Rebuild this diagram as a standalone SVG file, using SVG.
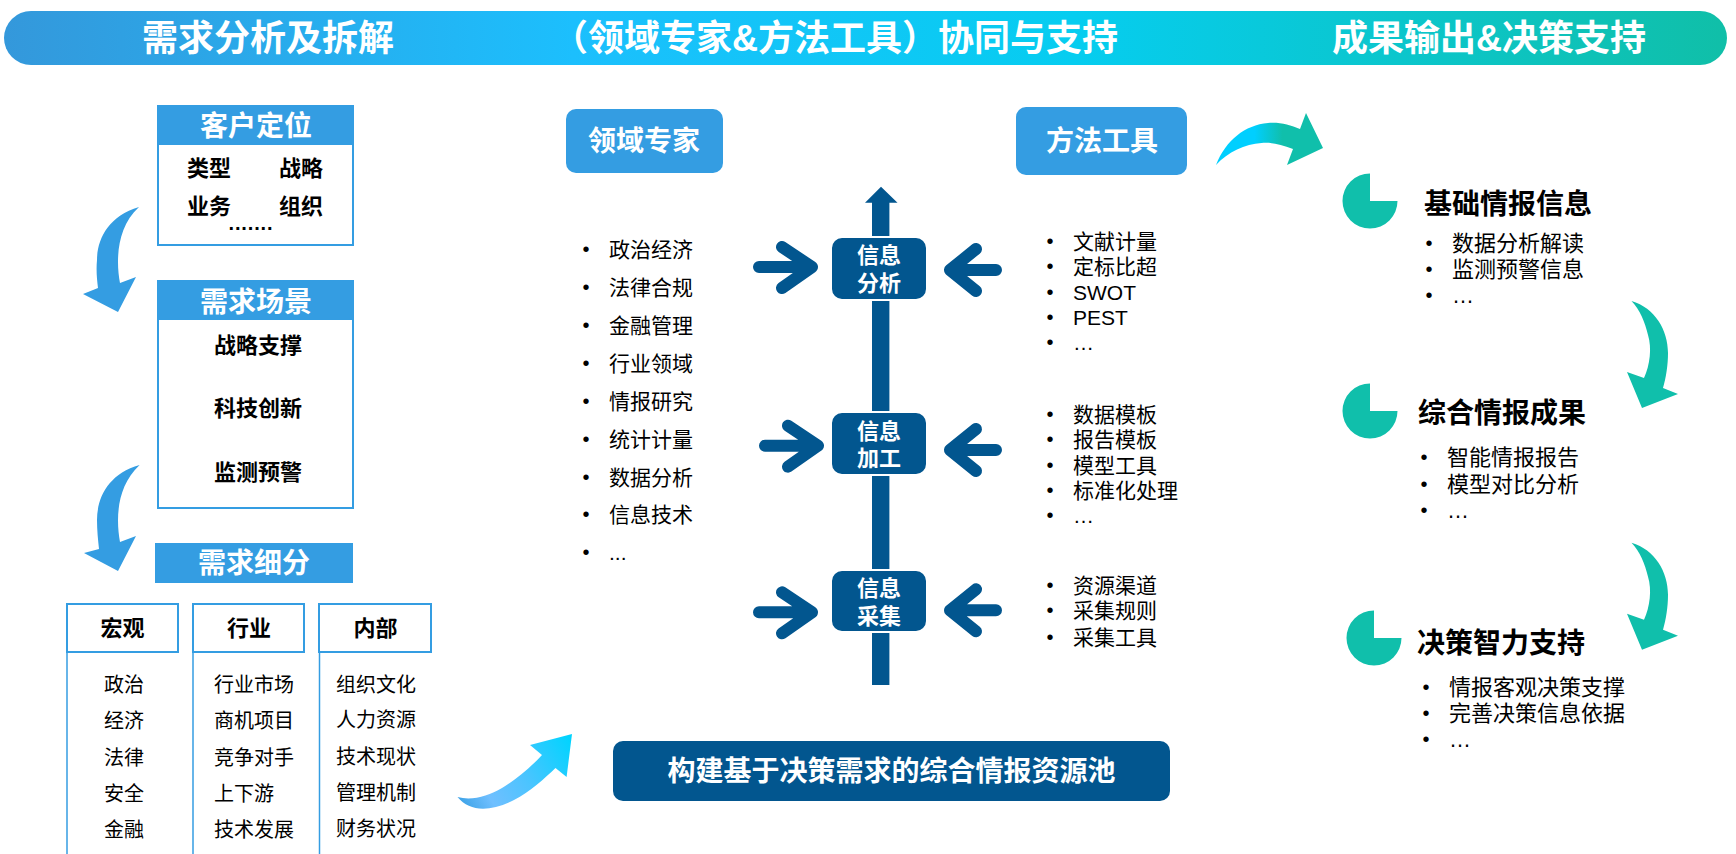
<svg xmlns="http://www.w3.org/2000/svg" xmlns:xlink="http://www.w3.org/1999/xlink" width="1736" height="854" viewBox="0 0 1736 854">
<style>
text{font-family:"Liberation Sans","Noto Sans CJK SC",sans-serif;dominant-baseline:central}
.b{font-weight:700}
.w{fill:#fff;font-weight:700}
.m{text-anchor:middle}
.t36{font-size:36px}.t28{font-size:28px}.t22{font-size:22px}.t21{font-size:21px}.t20{font-size:20px}
.k{fill:#000}
.dot{font-size:20px;text-anchor:middle}
.blue{fill:#349DE2}.navy{fill:#02568F}.teal{fill:#10BFAB}
.frame{fill:#fff;stroke:#349DE2;stroke-width:2}
.rule{stroke:#349DE2;stroke-width:1.5;fill:none}
.fat{fill:none;stroke:#02568F;stroke-width:12;stroke-linecap:round;stroke-linejoin:round}
</style>
<defs>
<linearGradient id="gb" x1="4" x2="1727" y1="0" y2="0" gradientUnits="userSpaceOnUse">
<stop offset="0" stop-color="#3498DB"/><stop offset=".33" stop-color="#1CBFFD"/><stop offset=".62" stop-color="#06CDF0"/><stop offset="1" stop-color="#10BFA8"/>
</linearGradient>
<linearGradient id="g3" x1="458" y1="810" x2="572" y2="740" gradientUnits="userSpaceOnUse">
<stop offset="0" stop-color="#349DE2"/><stop offset=".25" stop-color="#6FBFFF"/><stop offset=".55" stop-color="#4CC4FF"/><stop offset="1" stop-color="#00D4FF"/>
</linearGradient>
<linearGradient id="g4" x1="1216" y1="0" x2="1323" y2="0" gradientUnits="userSpaceOnUse">
<stop offset="0" stop-color="#00CFFF"/><stop offset=".36" stop-color="#00CFFF"/><stop offset=".62" stop-color="#10BFAB"/><stop offset="1" stop-color="#10BFAB"/>
</linearGradient>
<path id="pie" d="M0,0H27.500A27.500,27.500 0 1 1 0,-27.500Z"/>
<path id="fatR" d="M-47,0H6M-24,-20L6,0L-24,21" class="fat"/>
<path id="fatL" d="M52,0H6M32,-21L6,0L32,21" class="fat"/>
</defs>
<g id="banner">
<rect x="4" y="11" width="1723" height="54" rx="27" fill="url(#gb)"/>
<text class="w t36 m" x="268" y="38">需求分析及拆解</text>
<text class="w t36" x="552" y="38">（领域专家&amp;方法工具）协同与支持</text>
<text class="w t36" x="1332" y="38">成果输出&amp;决策支持</text>
</g>
<g id="connectors">
<path class="blue" d="M139,207C108,216 97,240 97,260C96,270 97,280 98,288L83,294L118,312L136,277L120,283C116,262 116,228 139,207Z"/>
<path class="blue" d="M139.600,465C108,474 97,498 97,520C97,530 98,540 99,549L84,553L118,571L136,536L120,542C116,520 116,487 139.600,465Z"/>
<path fill="url(#g3)" d="M457.500,797C470,812 490,812 514,800C530,792 545,778 555.500,768L566.600,777L572,734L530,745L542,755C528,770 515,780 502,788C488,796 472,801 457.500,797Z"/>
<path fill="url(#g4)" d="M1216,165C1226,140 1245,125 1268,123C1280,122 1290,125 1300,129L1306,113L1323,148L1287,165L1293,149C1280,144 1270,142 1261.500,143C1245,144 1228,152 1216,165Z"/>
<path id="tealA" class="teal" d="M1631.500,301C1655,308 1668,330 1668,353C1668,365 1666,378 1663,388L1678,394L1642,408L1627,372L1644,378C1650,365 1652,348 1648,335C1645,322 1640,310 1631.500,301Z"/>
<use href="#tealA" xlink:href="#tealA" y="241.700"/>
<path class="navy" d="M872,685V202.700H865L881,186.700L897.500,202.700H889.400V685Z"/>
<use href="#fatR" xlink:href="#fatR" x="806" y="267"/>
<use href="#fatR" xlink:href="#fatR" x="812" y="445.700"/>
<use href="#fatR" xlink:href="#fatR" x="806" y="612.300"/>
<use href="#fatL" xlink:href="#fatL" x="944" y="270"/>
<use href="#fatL" xlink:href="#fatL" x="944" y="450"/>
<use href="#fatL" xlink:href="#fatL" x="944" y="610.300"/>
</g>
<g id="n-kehu">
<rect class="frame" x="158" y="106" width="195" height="139"/>
<rect class="blue" x="157" y="105" width="197" height="40"/>
<text class="w t28 m" x="256" y="126">客户定位</text>
<text class="b t22 k" x="187" y="168">类型</text><text class="b t22 k" x="279" y="168">战略</text>
<text class="b t22 k" x="187" y="206">业务</text><text class="b t22 k" x="279" y="206">组织</text>
<text class="b k" x="228.500" y="230" font-size="20" style="dominant-baseline:auto" textLength="44">.......</text>
</g>
<g id="n-changjing">
<rect class="frame" x="158" y="281" width="195" height="227"/>
<rect class="blue" x="157" y="280" width="197" height="40"/>
<text class="w t28 m" x="256" y="302">需求场景</text>
<text class="b t22 m k" x="258" y="345">战略支撑</text>
<text class="b t22 m k" x="258" y="408">科技创新</text>
<text class="b t22 m k" x="258" y="472">监测预警</text>
</g>
<g id="n-xifen">
<rect class="blue" x="155" y="543" width="198" height="40"/>
<text class="w t28 m" x="254" y="563">需求细分</text>
</g>
<g id="n-hongguan">
<path class="rule" d="M67,652V854"/>
<rect class="frame" x="67" y="604" width="111" height="48"/>
<text class="b t22 m k" x="122.500" y="628">宏观</text>
<text class="t20 k" x="104" y="685">政治</text><text class="t20 k" x="104" y="721">经济</text><text class="t20 k" x="104" y="758">法律</text><text class="t20 k" x="104" y="794">安全</text><text class="t20 k" x="104" y="830">金融</text>
</g>
<g id="n-hangye">
<path class="rule" d="M193,652V854"/>
<rect class="frame" x="193" y="604" width="111" height="48"/>
<text class="b t22 m k" x="249" y="628">行业</text>
<text class="t20 k" x="214" y="685">行业市场</text><text class="t20 k" x="214" y="721">商机项目</text><text class="t20 k" x="214" y="758">竞争对手</text><text class="t20 k" x="214" y="794">上下游</text><text class="t20 k" x="214" y="830">技术发展</text>
</g>
<g id="n-neibu">
<path class="rule" d="M319.500,652V854"/>
<rect class="frame" x="319" y="604" width="112" height="48"/>
<text class="b t22 m k" x="375.500" y="628">内部</text>
<text class="t20 k" x="336" y="685">组织文化</text><text class="t20 k" x="336" y="720">人力资源</text><text class="t20 k" x="336" y="757">技术现状</text><text class="t20 k" x="336" y="793">管理机制</text><text class="t20 k" x="336" y="829">财务状况</text>
</g>
<g id="n-lingyu">
<rect class="blue" x="566" y="109" width="157" height="64" rx="10"/>
<text class="w t28 m" x="644" y="141">领域专家</text>
<g class="k">
<text class="dot" x="586" y="249">•</text><text class="t21" x="609" y="249">政治经济</text>
<text class="dot" x="586" y="287">•</text><text class="t21" x="609" y="287">法律合规</text>
<text class="dot" x="586" y="325">•</text><text class="t21" x="609" y="325">金融管理</text>
<text class="dot" x="586" y="363">•</text><text class="t21" x="609" y="363">行业领域</text>
<text class="dot" x="586" y="401">•</text><text class="t21" x="609" y="401">情报研究</text>
<text class="dot" x="586" y="439">•</text><text class="t21" x="609" y="439">统计计量</text>
<text class="dot" x="586" y="477">•</text><text class="t21" x="609" y="477">数据分析</text>
<text class="dot" x="586" y="514">•</text><text class="t21" x="609" y="514">信息技术</text>
<text class="dot" x="586" y="552">•</text><text class="t21" x="609" y="552">...</text>
</g>
</g>
<g id="n-fenxi">
<rect class="navy" x="831" y="237" width="96" height="63" rx="11" stroke="#fff" stroke-width="2"/>
<text class="w t22 m" x="879" y="255">信息</text><text class="w t22 m" x="879" y="283">分析</text>
</g>
<g id="n-jiagong">
<rect class="navy" x="831" y="412" width="96" height="63" rx="11" stroke="#fff" stroke-width="2"/>
<text class="w t22 m" x="879" y="431">信息</text><text class="w t22 m" x="879" y="458">加工</text>
</g>
<g id="n-caiji">
<rect class="navy" x="831" y="570" width="96" height="62" rx="11" stroke="#fff" stroke-width="2"/>
<text class="w t22 m" x="879" y="588">信息</text><text class="w t22 m" x="879" y="616">采集</text>
</g>
<g id="n-fangfa">
<rect class="blue" x="1016" y="107" width="171" height="68" rx="10"/>
<text class="w t28 m" x="1102" y="141">方法工具</text>
<g class="k">
<text class="dot" x="1050" y="241">•</text><text class="t21" x="1073" y="241">文献计量</text>
<text class="dot" x="1050" y="266">•</text><text class="t21" x="1073" y="266">定标比超</text>
<text class="dot" x="1050" y="292">•</text><text class="t21" x="1073" y="292">SWOT</text>
<text class="dot" x="1050" y="317">•</text><text class="t21" x="1073" y="317">PEST</text>
<text class="dot" x="1050" y="342">•</text><text class="t21" x="1073" y="342">…</text>
<text class="dot" x="1050" y="414">•</text><text class="t21" x="1073" y="414">数据模板</text>
<text class="dot" x="1050" y="439">•</text><text class="t21" x="1073" y="439">报告模板</text>
<text class="dot" x="1050" y="465">•</text><text class="t21" x="1073" y="465">模型工具</text>
<text class="dot" x="1050" y="490">•</text><text class="t21" x="1073" y="490">标准化处理</text>
<text class="dot" x="1050" y="515">•</text><text class="t21" x="1073" y="515">…</text>
<text class="dot" x="1050" y="585">•</text><text class="t21" x="1073" y="585">资源渠道</text>
<text class="dot" x="1050" y="610">•</text><text class="t21" x="1073" y="610">采集规则</text>
<text class="dot" x="1050" y="637">•</text><text class="t21" x="1073" y="637">采集工具</text>
</g>
</g>
<g id="n-pool">
<rect class="navy" x="613" y="741" width="557" height="60" rx="10"/>
<text class="w t28 m" x="891.500" y="771">构建基于决策需求的综合情报资源池</text>
</g>
<g id="n-jichu">
<use class="teal" href="#pie" xlink:href="#pie" x="1370" y="201"/>
<text class="b t28 k" x="1424" y="204">基础情报信息</text>
<text class="dot k" x="1429" y="243">•</text><text class="t22 k" x="1452" y="243">数据分析解读</text>
<text class="dot k" x="1429" y="269">•</text><text class="t22 k" x="1452" y="269">监测预警信息</text>
<text class="dot k" x="1429" y="295">•</text><text class="t22 k" x="1452" y="295">…</text>
</g>
<g id="n-zonghe">
<use class="teal" href="#pie" xlink:href="#pie" x="1370" y="411"/>
<text class="b t28 k" x="1418" y="413">综合情报成果</text>
<text class="dot k" x="1424" y="457">•</text><text class="t22 k" x="1447" y="457">智能情报报告</text>
<text class="dot k" x="1424" y="484">•</text><text class="t22 k" x="1447" y="484">模型对比分析</text>
<text class="dot k" x="1424" y="510">•</text><text class="t22 k" x="1447" y="510">…</text>
</g>
<g id="n-juece">
<use class="teal" href="#pie" xlink:href="#pie" x="1374" y="638"/>
<text class="b t28 k" x="1417" y="643">决策智力支持</text>
<text class="dot k" x="1426" y="687">•</text><text class="t22 k" x="1449" y="687">情报客观决策支撑</text>
<text class="dot k" x="1426" y="713">•</text><text class="t22 k" x="1449" y="713">完善决策信息依据</text>
<text class="dot k" x="1426" y="739">•</text><text class="t22 k" x="1449" y="739">…</text>
</g>
</svg>
